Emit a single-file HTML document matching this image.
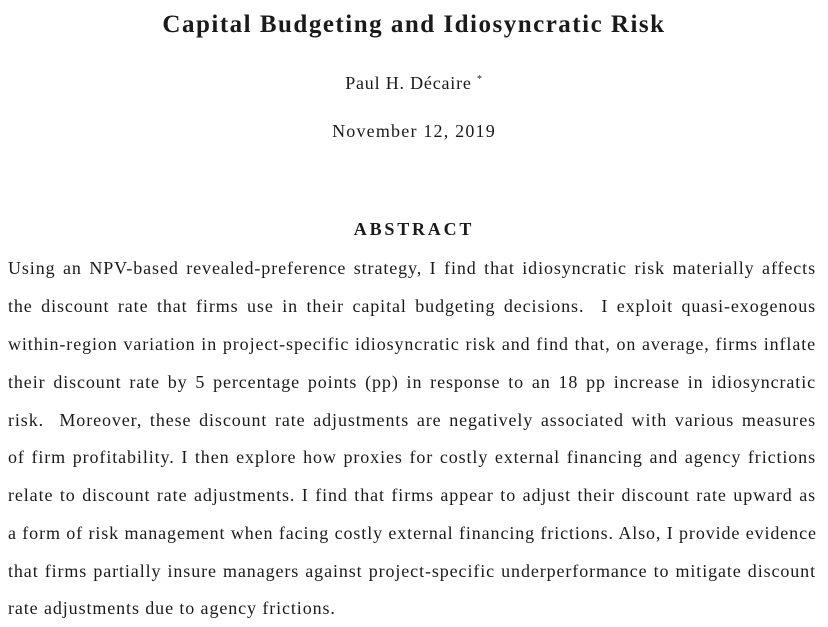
<!DOCTYPE html>
<html><head><meta charset="utf-8">
<style>
html,body{margin:0;padding:0;background:#fff;}
body{width:828px;height:627px;position:relative;overflow:hidden;font-family:"Liberation Serif",serif;color:#1a1a1a;}
.c{position:absolute;left:0;width:828px;text-align:center;}
.l{position:absolute;left:8px;width:808px;font-size:18px;letter-spacing:0.9px;text-align:justify;text-align-last:justify;white-space:nowrap;line-height:20px;}
.l.last{text-align-last:left;}
</style></head><body>
<div class="c" style="top:11px;font-size:25px;letter-spacing:1.5px;font-weight:bold;">Capital Budgeting and Idiosyncratic Risk</div>
<div class="c" style="top:73px;font-size:18px;letter-spacing:0.8px;">Paul H. Décaire <sup style="font-size:10px">*</sup></div>
<div class="c" style="top:121px;font-size:18px;letter-spacing:1.2px;">November 12, 2019</div>
<div class="c" style="top:219px;font-size:18px;letter-spacing:2.8px;font-weight:bold;">ABSTRACT</div>
<div>
<div class="l" style="top:258px">Using an NPV-based revealed-preference strategy, I find that idiosyncratic risk materially affects</div>
<div class="l" style="top:296px">the discount rate that firms use in their capital budgeting decisions.&nbsp; I exploit quasi-exogenous</div>
<div class="l" style="top:334px">within-region variation in project-specific idiosyncratic risk and find that, on average, firms inflate</div>
<div class="l" style="top:372px">their discount rate by 5 percentage points (pp) in response to an 18 pp increase in idiosyncratic</div>
<div class="l" style="top:410px">risk.&nbsp; Moreover, these discount rate adjustments are negatively associated with various measures</div>
<div class="l" style="top:447px">of firm profitability. I then explore how proxies for costly external financing and agency frictions</div>
<div class="l" style="top:485px">relate to discount rate adjustments. I find that firms appear to adjust their discount rate upward as</div>
<div class="l" style="top:523px">a form of risk management when facing costly external financing frictions. Also, I provide evidence</div>
<div class="l" style="top:561px">that firms partially insure managers against project-specific underperformance to mitigate discount</div>
<div class="l last" style="top:598px">rate adjustments due to agency frictions.</div>
</div>
</body></html>
